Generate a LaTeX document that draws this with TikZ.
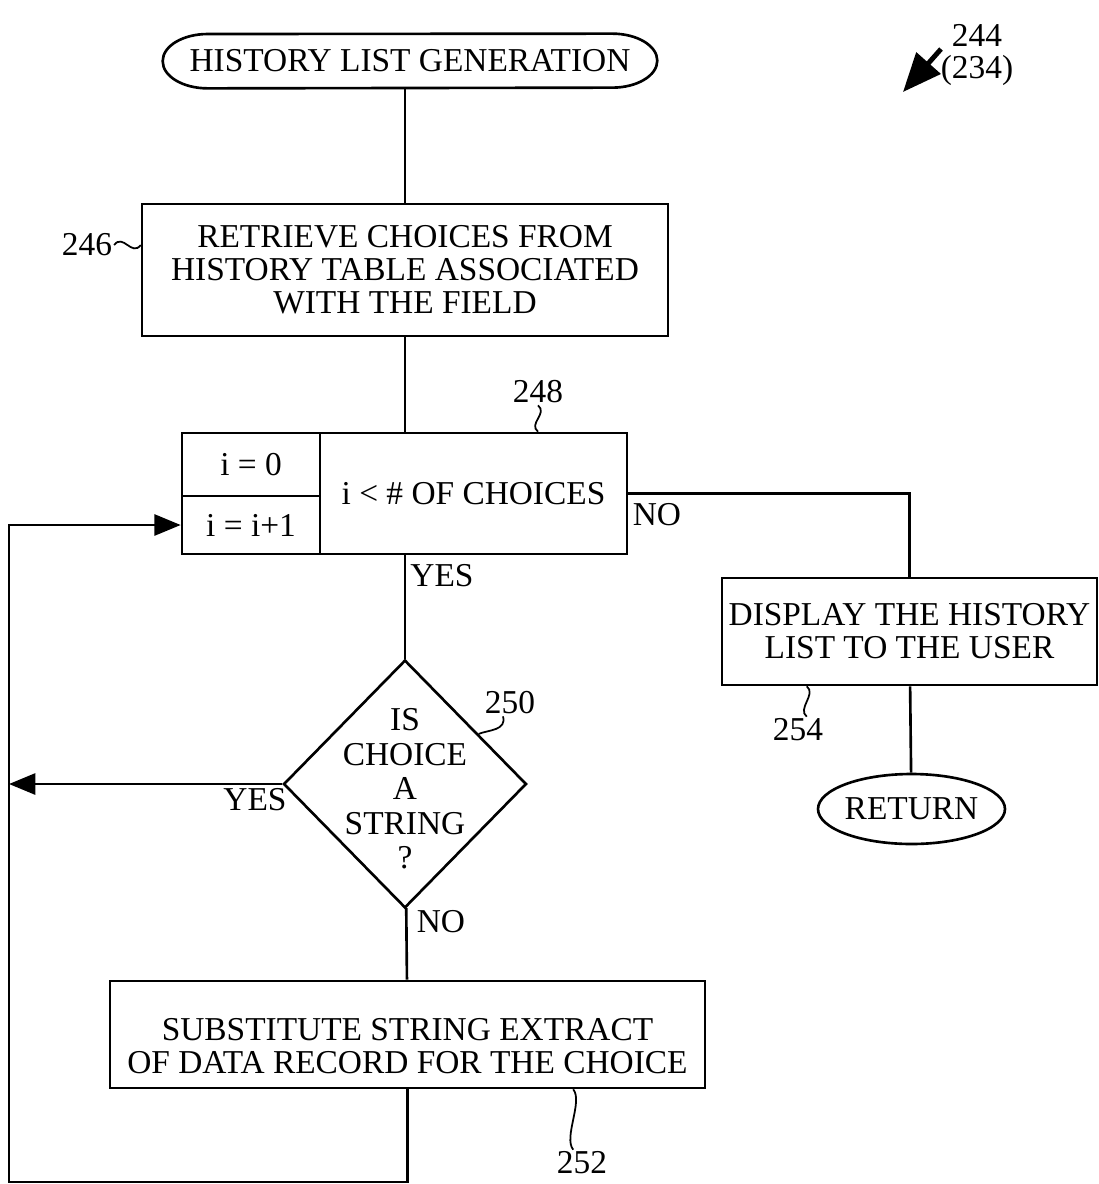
\documentclass[tikz,border=0pt]{standalone}
\usepackage{fontspec}
\setmainfont{Liberation Serif}
\usetikzlibrary{arrows.meta,calc,shapes.geometric}

\tikzset{
  box/.style={draw,line width=1.5pt,align=center,inner sep=0pt},
  term/.style={draw,ellipse,line width=1.5pt,inner sep=0pt},
  link/.style={line width=1.5pt},
  tag/.style={inner sep=1pt},
  lead/.style={line width=1pt},
  cap radii/.style={x radius=0.9cm,y radius=0.54cm}
}

\begin{document}
\begin{tikzpicture}[x=0.02cm,y=-0.02cm,font=\fontsize{19}{18.8}\selectfont,>={Triangle[length=15pt,width=12pt]}]
  \useasboundingbox (0,0) rectangle (1099,1184);
  % flow
  \node[inner sep=0pt,minimum width=9.88cm,minimum height=1.08cm] (start) at (410,61) {HISTORY LIST GENERATION};
  \draw[link] (start.west) arc[start angle=180,end angle=90,cap radii]
    -- ($(start.north east)+(-45,0)$) arc[start angle=90,end angle=-90,cap radii]
    -- ($(start.south west)+(45,0)$) arc[start angle=270,end angle=180,cap radii] -- cycle;
  \node[box,minimum width=10.52cm,minimum height=2.64cm] (retrieve) at (405,270) {RETRIEVE CHOICES FROM\\HISTORY TABLE ASSOCIATED\\WITH THE FIELD};
  \node[box,minimum width=2.76cm,minimum height=1.26cm] (init) at (251,464.5) {i = 0};
  \node[box,minimum width=2.76cm,minimum height=1.16cm] (incr) at (251,525) {i = i+1};
  \node[box,minimum width=6.14cm,minimum height=2.42cm] (test) at (473.5,493.5) {i < \# OF CHOICES};
  \node[box,minimum width=7.5cm,minimum height=2.14cm] (disp) at (909.5,631.5) {DISPLAY THE HISTORY\\LIST TO THE USER};
  \node[term,minimum width=3.74cm,minimum height=1.4cm] (ret) at (911.5,809) {\makebox[0pt]{RETURN}};
  \node[draw,diamond,line width=1.5pt,inner sep=0pt,minimum width=4.86cm,minimum height=4.96cm] (dec) at (405,784) {};
  \node[align=center,font=\fontsize{19}{19.6}\selectfont] (dectext) at (405,789) {IS\\CHOICE\\A\\STRING\\?};
  \node[box,minimum width=11.9cm,minimum height=2.14cm] (subst) at (407.5,1034.5) {};
  \node[align=center] (substtext) at (407.5,1046) {SUBSTITUTE STRING EXTRACT\\OF DATA RECORD FOR THE CHOICE};
  \coordinate (back) at (9,1182);

  \draw[link] (start.south -| retrieve) -- (retrieve);
  \draw[link] (retrieve) -- (retrieve.south |- test.north);
  \draw[link] (test.south -| dec.north) -- (dec);
  \draw[link] (test) -- (test -| disp) -- (disp);
  \draw[link] (disp) -- (ret);
  \draw[link] (dec) -- (subst);
  \draw[link,->] (dec) -- (dec -| back);
  \draw[link,->] (subst) |- (back) |- (incr);

  \node (yes1) at (442,576) {YES};
  \node (no1) at (657,515) {NO};
  \node (yes2) at (255,800) {YES};
  \node (no2) at (441,922) {NO};

  % reference numerals
  \node[tag] (n244) at (977,35) {244};
  \node[tag] (n234) at (977,70) {(234)};
  \coordinate (figtail) at (941,49);
  \coordinate (figtip) at (903,92);
  \draw[line width=2.8pt,-{Triangle[length=22pt,width=18pt]}] (figtail) -- (figtip);

  \node[tag] (n246) at (87,245) {246};
  \draw[lead] (n246.east) .. controls +(9,-12) and +(-9,12) .. (retrieve.west |- n246.east);
  \node[tag] (n248) at (538,392) {248};
  \draw[lead] (n248.south) .. controls +(10,8) and +(-10,-8) .. (n248.south |- test.north);
  \node[tag] (n250) at (510,703) {250};
  \draw[lead] ([xshift=-4pt]n250.south) .. controls +(4,14) and +(10,-4) .. ($(dec.north)!0.6!(dec.east)$);
  \node[tag] (n254) at (798,730) {254};
  \draw[lead] ([xshift=5pt]n254.north) .. controls +(-10,-8) and +(10,8) .. ([xshift=5pt]n254.north |- disp.south);
  \node[tag] (n252) at (582,1163) {252};
  \draw[lead] ([xshift=-5pt]n252.north) .. controls +(-10,-12) and +(10,12) .. ([xshift=-5pt]n252.north |- subst.south);
\end{tikzpicture}
\end{document}
